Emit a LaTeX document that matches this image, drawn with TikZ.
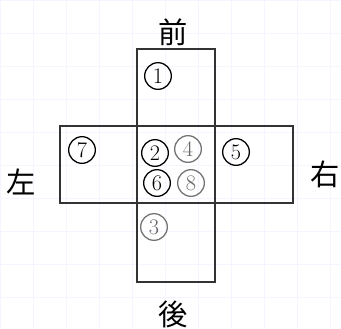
\documentclass[tikz,border=0pt]{standalone}
\usepackage{fontspec}
\newfontfamily\cjkfont{Noto Sans CJK JP}
\usepackage{xcolor}
\usetikzlibrary{positioning}

\begin{document}
\begin{tikzpicture}[
    x=0.03cm, y=-0.03cm,
    face/.style={draw=black!80, line width=1.2pt},
    num/.style={circle, draw, line width=1.1pt, minimum size=0.8cm, inner sep=0pt, font=\fontsize{19}{22}\selectfont},
    pale/.style={num, draw=black!55, text=black!60},
    side/.style={font=\cjkfont\fontsize{25}{29}\selectfont},
]
\useasboundingbox (0,0) rectangle (341,328);

% Graph paper
\fill[white] (0,0) rectangle (341,328);
\draw[blue!4, line width=0.6pt, step=0.99cm] (0,0) grid (341,328);

% Cross
\draw[face] (137,49) rectangle (215,282);
\draw[face] (60,126) rectangle (293,203);

% Numbered places
\node[num] (n1) at (158,76) {1};
\node[num] (n2) at (155,153) {2};
\node[pale] (n4) at (188,149) {4};
\node[num] (n5) at (236,152) {5};
\node[num] (n7) at (82,150) {7};
\node[num] (n6) at (157,183) {6};
\node[pale] (n8) at (191,183) {8};
\node[pale] (n3) at (154,227) {3};

% Directions
\node[side] (front) at (173,32) {前};
\node[side] (back) at (173,314) {後};
\node[side] (left) at (21,182) {左};
\node[side] (right) at (325,174) {右};

\end{tikzpicture}
\end{document}
